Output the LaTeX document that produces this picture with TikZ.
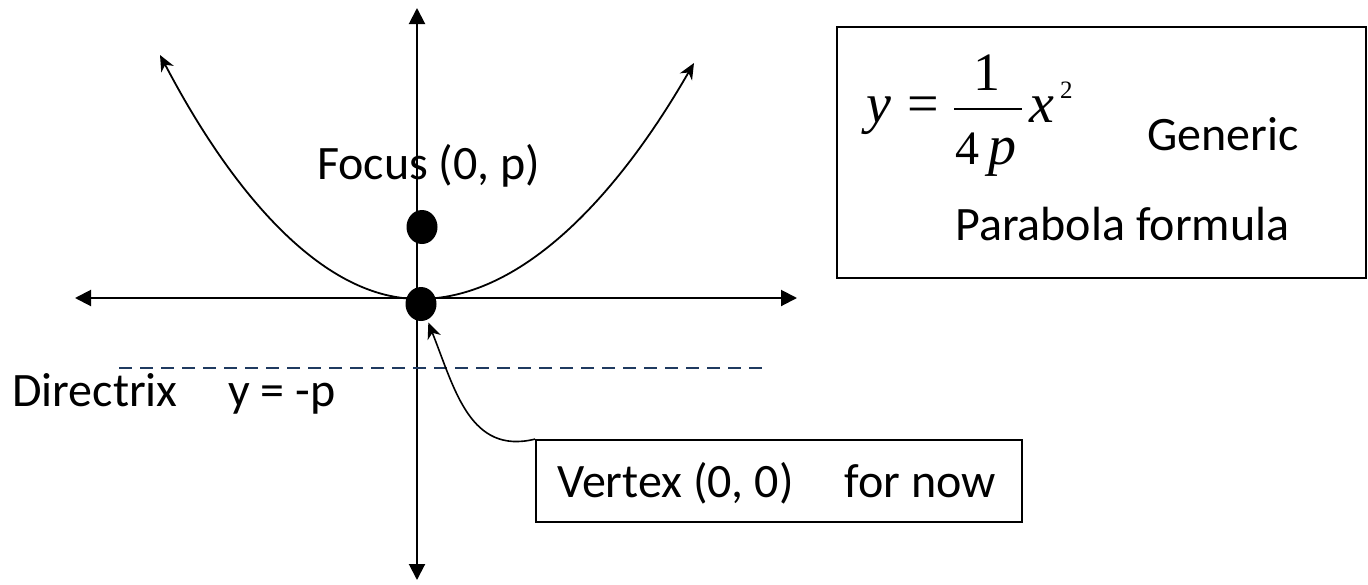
\documentclass[tikz,border=0pt]{standalone}
\usepackage{fontspec}
\setmainfont{Carlito}
\newfontfamily\eqfont{Liberation Serif}
\usetikzlibrary{arrows.meta,shapes.geometric,positioning}
\definecolor{directrixBlue}{HTML}{1F3A60}

\begin{document}
\begin{tikzpicture}[x=1pt,y=-1pt,
  font=\fontsize{48}{56}\selectfont,
  axisline/.style={line width=2pt,{Triangle[length=16pt,width=16pt]}-{Triangle[length=16pt,width=16pt]}},
  curveline/.style={line width=1.8pt,{Stealth[length=16pt,width=14pt,inset=5pt]}-{Stealth[length=16pt,width=14pt,inset=5pt]}},
  pointer/.style={line width=1.6pt,-{Stealth[length=16pt,width=14pt,inset=5pt]},shorten >=3pt},
  pointdot/.style={ellipse,fill=black,minimum width=31pt,minimum height=34pt,inner sep=0pt},
  plaintext/.style={anchor=base west,inner sep=0pt},
  eqtext/.style={anchor=base west,inner sep=0pt,font=\eqfont\fontsize{56}{60}\selectfont},
  framebox/.style={draw,line width=1.8pt,inner sep=0pt}]
  \path[use as bounding box] (0,0) rectangle (1368,584);

  % axes and the directrix
  \foreach \n/\x/\y in {xleft/75/298,xright/797/298,ytop/417/8,ybottom/417/580,dirleft/119/368,dirright/762/368,
    lefttip/160/55,bend/419/299,righttip/694/63,barleft/954/109,barright/1022/109}
    {\coordinate (\n) at (\x,\y);}
  \draw[axisline] (xleft)--(xright);
  \draw[axisline] (ytop)--(ybottom);
  \draw[draw=directrixBlue,line width=1.6pt,dash pattern=on 13pt off 8pt] (dirleft)--(dirright);
  \draw[curveline] (lefttip) parabola bend (bend) (righttip);

  \node[pointdot] (focusdot) at (422,227) {};
  \node[pointdot] (vertexdot) at (421,304) {};

  \node[plaintext] (focuslabel) at (317,179) {Focus (0, p)};
  \node[plaintext] (directrixlabel) at (12,406) {Directrix};
  \node[plaintext] (directrixeq) at (228,406) {y = -p};

  % formula box
  \node[framebox,minimum width=529pt,minimum height=251pt] (formulabox) at (1101.5,152.5) {};
  \node[eqtext] (ylhs) at (866,122) {\itshape y};
  \node[eqtext] (eqsign) at (907,122) {=};
  \draw[line width=1.8pt] (barleft)--(barright);
  \node[eqtext,anchor=base,font=\eqfont\fontsize{54}{60}\selectfont] (numer) at (987,90) {1};
  \node[eqtext] (denom) at (955,164) {{\fontsize{48}{54}\selectfont 4}\,\itshape p};
  \node[eqtext] (xrhs) at (1029,122) {\itshape x};
  \node[eqtext,font=\eqfont\fontsize{25}{28}\selectfont] (xpower) at (1060,98) {2};
  \node[plaintext] (genericlabel) at (1147,150) {Generic};
  \node[plaintext] (formulalabel) at (955,240) {Parabola formula};

  % vertex note
  \node[framebox,minimum width=486pt,minimum height=82pt] (vertexbox) at (779,481) {};
  \node[plaintext] (vertexlabel) at (557,497) {Vertex (0, 0)\hspace{51pt}for now};
  \draw[pointer] (vertexbox.north west) .. controls (470,455) and (455,390) .. (vertexdot);
\end{tikzpicture}
\end{document}
